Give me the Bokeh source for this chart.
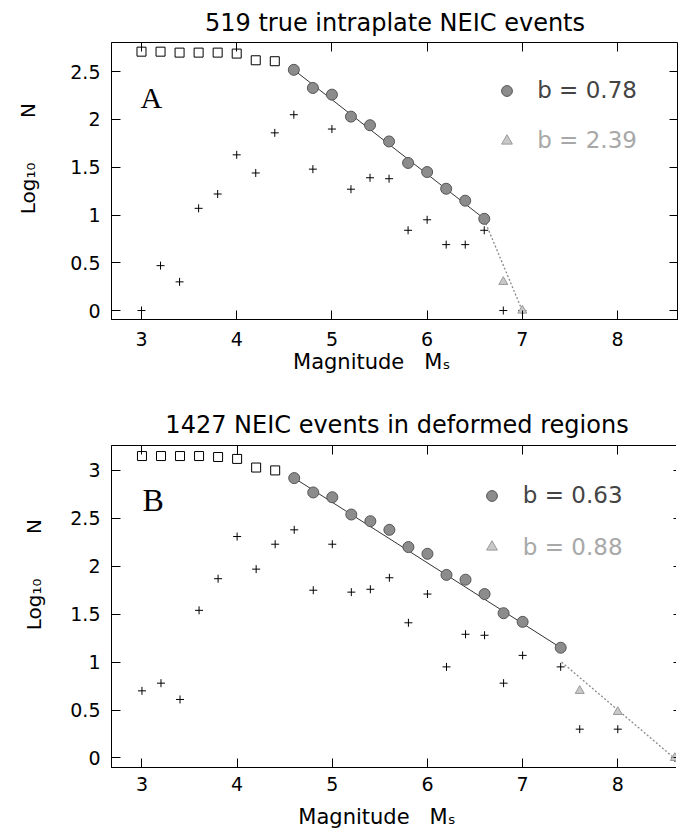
from bokeh.plotting import figure
from bokeh.layouts import column
from bokeh.models import (Range1d, LinearAxis, FixedTicker, Label, Legend,
                          LegendItem)
from bokeh.embed import file_html
from bokeh.resources import INLINE

# ---------------- data : panel A ----------------
title_A = "519 true intraplate NEIC events"
mag_sq_A = [3.0, 3.2, 3.4, 3.6, 3.8, 4.0, 4.2, 4.4]
logN_sq_A = [2.71, 2.71, 2.70, 2.70, 2.70, 2.69, 2.62, 2.61]
mag_ci_A = [4.6, 4.8, 5.0, 5.2, 5.4, 5.6, 5.8, 6.0, 6.2, 6.4, 6.6]
logN_ci_A = [2.52, 2.33, 2.26, 2.03, 1.94, 1.77, 1.545, 1.45, 1.275, 1.15, 0.96]
mag_tr_A = [6.8, 7.0]
logN_tr_A = [0.30, 0.0]
mag_inc_A = [3.0, 3.2, 3.4, 3.6, 3.8, 4.0, 4.2, 4.4, 4.6, 4.8, 5.0,
             5.2, 5.4, 5.6, 5.8, 6.0, 6.2, 6.4, 6.6, 6.8, 7.0]
logN_inc_A = [0.0, 0.47, 0.30, 1.07, 1.22, 1.63, 1.44, 1.86, 2.05, 1.48, 1.90,
              1.27, 1.39, 1.38, 0.84, 0.95, 0.69, 0.69, 0.84, 0.0, 0.0]
fit1_x_A = [4.6, 6.6]
fit1_y_A = [2.52, 0.96]
fit2_x_A = [6.6, 7.02]
fit2_y_A = [0.95, -0.05]
b_text_A = ["b = 0.78", "b = 2.39"]
yticks_A = [0, 0.5, 1, 1.5, 2, 2.5]
ytick_labels_A = ["0", "0.5", "1", "1.5", "2", "2.5"]

# ---------------- data : panel B ----------------
title_B = "1427 NEIC events in deformed regions"
mag_sq_B = [3.0, 3.2, 3.4, 3.6, 3.8, 4.0, 4.2, 4.4]
logN_sq_B = [3.15, 3.15, 3.15, 3.15, 3.14, 3.12, 3.03, 3.00]
mag_ci_B = [4.6, 4.8, 5.0, 5.2, 5.4, 5.6, 5.8, 6.0, 6.2, 6.4, 6.6, 6.8, 7.0, 7.4]
logN_ci_B = [2.92, 2.77, 2.72, 2.54, 2.47, 2.38, 2.20, 2.13, 1.91, 1.86,
             1.71, 1.51, 1.42, 1.15]
mag_tr_B = [7.6, 8.0, 8.6]
logN_tr_B = [0.70, 0.48, 0.0]
mag_inc_B = [3.0, 3.2, 3.4, 3.6, 3.8, 4.0, 4.2, 4.4, 4.6, 4.8, 5.0,
             5.2, 5.4, 5.6, 5.8, 6.0, 6.2, 6.4, 6.6, 6.8, 7.0,
             7.4, 7.6, 8.0, 8.6]
logN_inc_B = [0.70, 0.78, 0.61, 1.54, 1.87, 2.31, 1.97, 2.23, 2.38, 1.75, 2.23,
              1.73, 1.76, 1.88, 1.41, 1.71, 0.95, 1.29, 1.28, 0.78, 1.07,
              0.95, 0.30, 0.30, 0.0]
fit1_x_B = [4.6, 7.4]
fit1_y_B = [2.92, 1.15]
fit2_x_B = [7.41, 8.65]
fit2_y_B = [1.0, -0.05]
b_text_B = ["b = 0.63", "b = 0.88"]
yticks_B = [0, 0.5, 1, 1.5, 2, 2.5, 3]
ytick_labels_B = ["0", "0.5", "1", "1.5", "2", "2.5", "3"]

xticks = [3, 4, 5, 6, 7, 8]
xtick_labels = ["3", "4", "5", "6", "7", "8"]

NB = "\u00a0"
xlabel_text = "Magnitude" + NB * 3 + "M\u209b"
ylabel_text = "Log\u2081\u2080" + NB * 7 + "N"

SANS = "DejaVu Sans"
SERIF = "Liberation Serif"
CIRC_FILL, CIRC_LINE = "#8c8c8c", "#555555"
TRI_FILL, TRI_LINE = "#c8c8c8", "#9a9a9a"


def make_panel(cfg):
    (fl, fr, ft, fb) = cfg["frame"]          # frame edges, page px
    top_off = cfg["page_top"]
    fw, fh = fr - fl, fb - ft
    x0, x1 = cfg["xr"]
    y0, y1 = cfg["yr"]
    p = figure(frame_width=fw, frame_height=fh,
               x_range=Range1d(x0, x1), y_range=Range1d(y0, y1),
               output_backend="svg", toolbar_location=None,
               min_border_left=fl, min_border_right=0,
               min_border_top=ft - top_off,
               min_border_bottom=cfg["page_bottom"] - fb)
    p.title.text = cfg["title"]
    p.title.align = "center"
    p.title.offset = cfg["title_offset"]
    p.title.standoff = cfg["title_standoff"]
    p.title.text_font = SANS
    p.title.text_font_size = "24px"
    p.title.text_font_style = "normal"
    p.title.text_color = "black"
    p.xgrid.grid_line_color = None
    p.ygrid.grid_line_color = None
    p.outline_line_color = "black"
    p.outline_line_width = 1
    p.background_fill_color = "white"
    p.border_fill_color = "white"

    sx = fw / (x1 - x0)
    sy = fh / (y1 - y0)

    def conv(px, py):
        return x0 + (px - fl) / sx, y0 + (fb - py) / sy

    # axes
    yt, ytl = cfg["yticks"], cfg["ytick_labels"]
    p.xaxis.ticker = FixedTicker(ticks=xticks)
    p.xaxis.major_label_overrides = dict(zip(xticks, xtick_labels))
    p.yaxis.ticker = FixedTicker(ticks=yt)
    p.yaxis.major_label_overrides = dict(zip(yt, ytl))
    for ax in (p.xaxis[0], p.yaxis[0]):
        ax.major_tick_in = 9
        ax.major_tick_out = 0
        ax.minor_tick_line_color = None
        ax.axis_line_color = "black"
        ax.major_tick_line_color = "black"
        ax.major_label_text_font = SANS
        ax.major_label_text_font_size = "19px"
        ax.major_label_text_color = "black"
        ax.axis_label_text_font = SANS
        ax.axis_label_text_font_style = "normal"
        ax.axis_label_text_color = "black"
    p.xaxis.major_label_standoff = cfg["xstand"]
    p.yaxis.major_label_standoff = 11
    p.xaxis.axis_label = cfg["xlabel"]
    p.xaxis.axis_label_text_font_size = "21px"
    p.xaxis.axis_label_standoff = cfg["xlab_stand"]
    p.yaxis.axis_label = cfg["ylabel"]
    p.yaxis.axis_label_text_font_size = "20px"
    p.yaxis.axis_label_standoff = cfg["ylab_stand"]

    top = LinearAxis(ticker=FixedTicker(ticks=xticks), major_tick_in=9,
                     major_tick_out=0, minor_tick_line_color=None,
                     axis_line_color=None, major_label_standoff=0,
                     major_tick_line_color="black",
                     major_label_overrides={t: "" for t in xticks},
                     major_label_text_color=None)
    right = LinearAxis(ticker=FixedTicker(ticks=yt), major_tick_in=9,
                       major_tick_out=0, minor_tick_line_color=None,
                       axis_line_color=None, major_label_standoff=0,
                       major_tick_line_color="black",
                       major_label_overrides={t: "" for t in yt},
                       major_label_text_color=None)
    p.add_layout(top, "above")
    p.add_layout(right, "right")

    d = cfg["data"]
    p.line(d["fit1_x"], d["fit1_y"], line_color="#333333", line_width=1)
    p.line(d["fit2_x"], d["fit2_y"], line_color="#8a8a8a", line_width=1.3,
           line_dash="2 2")
    p.scatter(d["mag_inc"], d["logN_inc"], marker="cross", size=8,
              line_color="black", line_width=1)
    p.scatter(d["mag_sq"], d["logN_sq"], marker="square", size=9,
              fill_color=None, line_color="black", line_width=1)
    r_ci = p.scatter(d["mag_ci"], d["logN_ci"], marker="circle", size=11,
                     fill_color=CIRC_FILL, line_color=CIRC_LINE, line_width=1)
    r_tr = p.scatter(d["mag_tr"], d["logN_tr"], marker="triangle", size=9,
                     fill_color=TRI_FILL, line_color=TRI_LINE, line_width=1)

    for (rend, txt, col, loc) in ((r_ci, cfg["b_text"][0], "#444444", cfg["leg1"]),
                                  (r_tr, cfg["b_text"][1], "#a8a8a8", cfg["leg2"])):
        cx, cy = loc
        leg = Legend(items=[LegendItem(label=txt, renderers=[rend])],
                     location=(cx - 13.5 - fl, fb - (cy + 13.5)),
                     padding=0, margin=0, spacing=0,
                     border_line_color=None, background_fill_alpha=0,
                     glyph_width=27, glyph_height=27,
                     label_standoff=cfg["leg_stand"],
                     label_text_font=SANS, label_text_font_size="23px",
                     label_text_color=col)
        p.add_layout(leg)

    lx, ly = conv(*cfg["letter_pos"])
    p.add_layout(Label(x=lx, y=ly, text=cfg["letter"], text_font=SERIF,
                       text_font_size=f"{cfg['letter_size']}px",
                       text_color="black", text_align="left",
                       text_baseline="alphabetic"))
    return p


cfgA = dict(
    frame=(111, 678, 42, 319), page_top=0, page_bottom=400,
    xr=(2.685, 8.64), yr=(-0.094, 2.806), xstand=12,
    yticks=yticks_A, ytick_labels=ytick_labels_A,
    data=dict(mag_sq=mag_sq_A, logN_sq=logN_sq_A, mag_ci=mag_ci_A,
              logN_ci=logN_ci_A, mag_tr=mag_tr_A, logN_tr=logN_tr_A,
              mag_inc=mag_inc_A, logN_inc=logN_inc_A,
              fit1_x=fit1_x_A, fit1_y=fit1_y_A, fit2_x=fit2_x_A, fit2_y=fit2_y_A),
    b_text=b_text_A, leg1=(506.7, 90), leg2=(506.7, 140), leg_stand=17,
    title=title_A, title_offset=3, title_standoff=12,
    letter="A", letter_size=30, letter_pos=(140, 97),
    xlabel=xlabel_text + NB * 7, xlab_stand=1,
    ylabel=NB * 7 + ylabel_text, ylab_stand=27,
)

cfgB = dict(
    frame=(105, 676, 445, 767), page_top=400, page_bottom=830,
    xr=(2.68, 8.68), yr=(-0.10, 3.26), xstand=9,
    yticks=yticks_B, ytick_labels=ytick_labels_B,
    data=dict(mag_sq=mag_sq_B, logN_sq=logN_sq_B, mag_ci=mag_ci_B,
              logN_ci=logN_ci_B, mag_tr=mag_tr_B, logN_tr=logN_tr_B,
              mag_inc=mag_inc_B, logN_inc=logN_inc_B,
              fit1_x=fit1_x_B, fit1_y=fit1_y_B, fit2_x=fit2_x_B, fit2_y=fit2_y_B),
    b_text=b_text_B, leg1=(500, 495), leg2=(500, 546.7), leg_stand=18,
    title=title_B, title_offset=2, title_standoff=13,
    letter="B", letter_size=32, letter_pos=(136, 499),
    xlabel=xlabel_text + NB * 6, xlab_stand=11,
    ylabel=NB * 10 + ylabel_text, ylab_stand=21,
)

pA = make_panel(cfgA)
pB = make_panel(cfgB)
layout = column(pA, pB, spacing=0)

with open("out.html", "w") as f:
    f.write(file_html(layout, INLINE))
